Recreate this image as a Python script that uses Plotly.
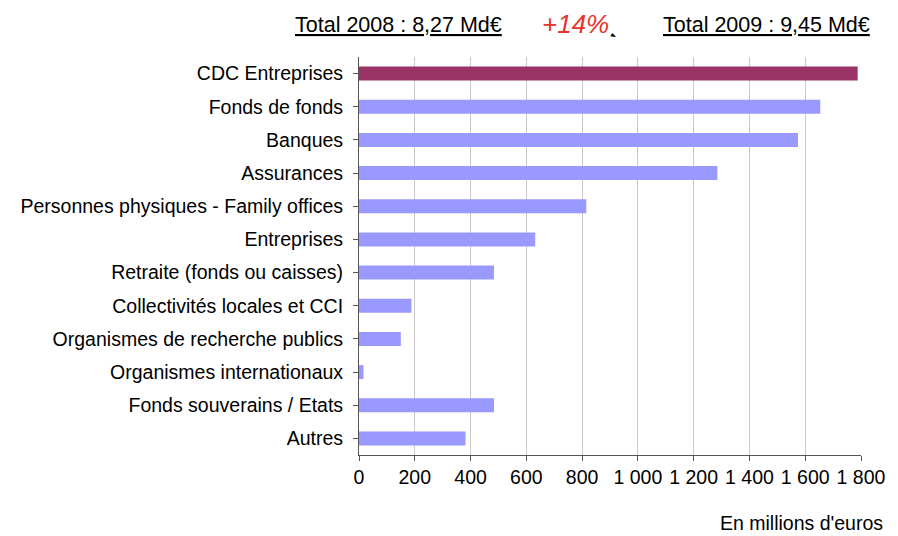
import plotly.graph_objects as go

categories = ["CDC Entreprises", "Fonds de fonds", "Banques", "Assurances",
              "Personnes physiques - Family offices", "Entreprises",
              "Retraite (fonds ou caisses)", "Collectivités locales et CCI",
              "Organismes de recherche publics", "Organismes internationaux",
              "Fonds souverains / Etats", "Autres"]
values = [1788, 1654, 1574, 1285, 815, 632, 484, 188, 150, 16, 484, 382]
tick_vals = [0, 200, 400, 600, 800, 1000, 1200, 1400, 1600, 1800]
tick_text = ["0", "200", "400", "600", "800", "1 000", "1 200", "1 400", "1 600", "1 800"]
colors = ["#993366"] + ["#9999FF"] * (len(categories) - 1)

font = "Liberation Sans, Arial, sans-serif"

# the page has an 8px body margin; figure spans page pixels 8..898 x 8..536
OFF = 8
W, H = 890, 528
L, T, R, B = 359 - OFF, 57 - OFF, 898 - 870, 536 - 455

fig = go.Figure(go.Bar(
    x=values, y=categories, orientation="h",
    marker=dict(color=colors, line=dict(width=0)),
    width=0.42,
))

pw = W - L - R
ph = H - T - B


def px(x):
    return (x - OFF - L) / pw


def py(y):
    return 1 - (y - OFF - T) / ph


fig.update_layout(
    width=W, height=H,
    margin=dict(l=L, r=R, t=T, b=B),
    paper_bgcolor="white", plot_bgcolor="white",
    font=dict(family=font, size=19.5, color="#000000"),
    showlegend=False,
    xaxis=dict(range=[0, 1800], tickvals=tick_vals, ticktext=tick_text,
               tickfont=dict(size=19.5),
               showgrid=True, gridcolor="#C8C8C8", gridwidth=1,
               showline=True, linecolor="#555555", linewidth=1,
               ticks="outside", ticklen=5, tickcolor="#555555",
               zeroline=False, fixedrange=True),
    yaxis=dict(categoryorder="array", categoryarray=categories[::-1],
               tickfont=dict(size=19.5),
               showline=True, linecolor="#555555", linewidth=1,
               ticks="outside", ticklen=5, tickcolor="#555555",
               showgrid=False, zeroline=False, fixedrange=True,
               ticklabelstandoff=6),
    annotations=[
        dict(text="<u>Total 2008 : 8,27 Md€</u>", x=px(292), y=py(25),
             xref="paper", yref="paper", showarrow=False,
             xanchor="left", yanchor="middle",
             font=dict(size=21.5, family=font)),
        dict(text="<i>+14%</i>", x=px(543), y=py(24.5),
             xref="paper", yref="paper", showarrow=False,
             xanchor="left", yanchor="middle",
             font=dict(size=26, family=font, color="#E8322C")),
        dict(text="<u>Total 2009 : 9,45 Md€</u>", x=px(666), y=py(25),
             xref="paper", yref="paper", showarrow=False,
             xanchor="left", yanchor="middle",
             font=dict(size=21.5, family=font)),
        dict(text="►", x=px(619), y=py(36), textangle=25,
             xref="paper", yref="paper", showarrow=False,
             xanchor="center", yanchor="middle",
             font=dict(size=7, family="DejaVu Sans", color="#000000")),
        dict(text="En millions d'euros", x=px(894), y=py(536),
             xref="paper", yref="paper", showarrow=False,
             xanchor="right", yanchor="bottom",
             font=dict(size=19.5, family=font)),
    ],
)

fig.write_html("out.html")
